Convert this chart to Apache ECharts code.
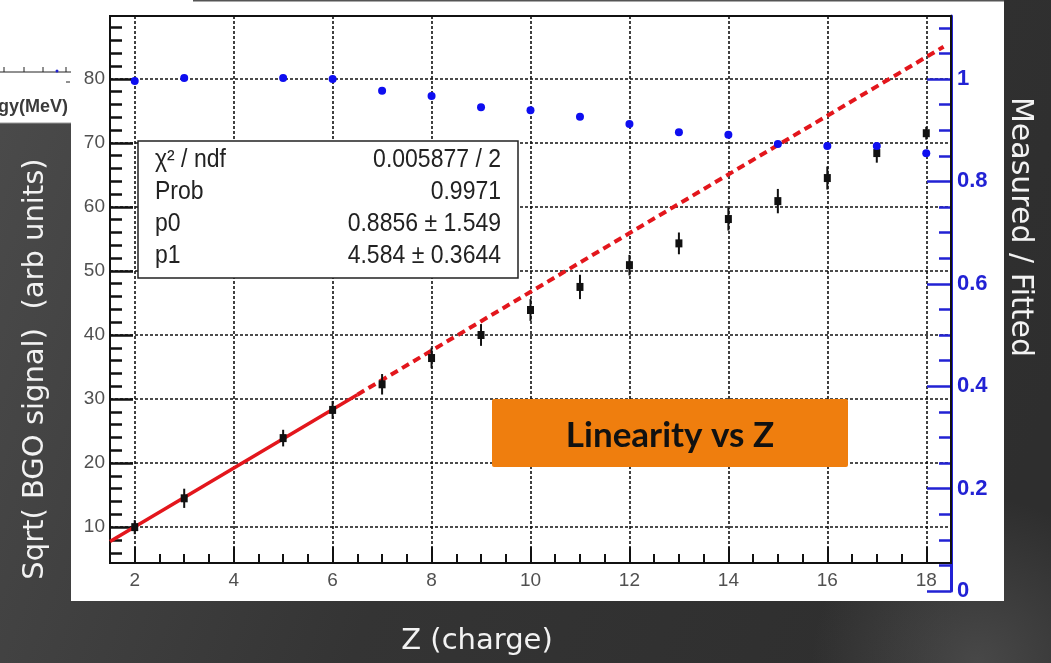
<!DOCTYPE html>
<html>
<head>
<meta charset="utf-8">
<title>Linearity vs Z</title>
<script src="https://cdn.jsdelivr.net/npm/echarts@6/dist/echarts.min.js"></script>
<style>
  html, body { margin: 0; padding: 0; background: #333; }
  #chart { width: 1051px; height: 663px; }
</style>
</head>
<body>
<div id="chart"></div>
<script>
// Measured points: nuclear charge Z, sqrt of BGO signal and its uncertainty
const zCharge   = [2, 3, 5, 6, 7, 8, 9, 10, 11, 12, 13, 14, 15, 16, 17, 18];
const bgoSignal = [10.0, 14.5, 23.9, 28.3, 32.3, 36.4, 40.0, 43.9, 47.5, 50.9, 54.3, 58.1, 60.9, 64.5, 68.4, 71.5];
const bgoError  = [1.1, 1.5, 1.3, 1.4, 1.6, 1.6, 1.7, 1.7, 1.9, 1.6, 1.7, 1.8, 1.9, 1.8, 1.5, 1.0];
// Measured / fitted ratio (right-hand scale)
const ratio     = [0.996, 1.002, 1.002, 1.000, 0.977, 0.967, 0.945, 0.939, 0.926, 0.912, 0.896, 0.891, 0.873, 0.869, 0.869, 0.855];

// Straight-line fit results: y = p0 + p1 * Z
const fitP0 = 0.8856;
const fitP1 = 4.584;
const fitSolidZ  = [1.5, 6.5];    // fitted range
const fitDashedZ = [6.5, 18.35];  // extrapolation

// Fit statistics box
const statNames  = ['\u03C7\u00B2 / ndf', 'Prob', 'p0', 'p1'];
const statValues = ['0.005877 / 2', '0.9971', '0.8856 \u00B1 1.549', '4.584 \u00B1 0.3644'];

// Axis ranges and tick positions
const xRange = [1.5, 18.5];
const yRange = [4.4, 89.8];
const ratioRange = [0, 1.123];
const xMajorTicks = [2, 4, 6, 8, 10, 12, 14, 16, 18];
const yMajorTicks = [10, 20, 30, 40, 50, 60, 70, 80];
const ratioMajorTicks = [0, 0.2, 0.4, 0.6, 0.8, 1.0];

function steps(from, to, step) {
  const out = [];
  for (let v = from; v <= to + 1e-9; v += step) out.push(Math.round(v * 1000) / 1000);
  return out;
}
const xMinorTicks = steps(2, 18.5, 0.5);
const yMinorTicks = steps(6, 88, 2);
const ratioMinorTicks = steps(0.05, 1.1, 0.05);

const BLUE = '#2222d4';
const TICK_FONT = 'Liberation Sans, Arial, sans-serif';
const TITLE_FONT = 'DejaVu Sans, sans-serif';

const chart = echarts.init(document.getElementById('chart'), null, { renderer: 'canvas' });

const dottedGrid = { show: true, lineStyle: { color: '#111', width: 1.6, type: [3, 2] } };

function valueAxis(extra) {
  return Object.assign({
    type: 'value',
    axisLine: { show: false, onZero: false },
    splitLine: { show: false },
    axisLabel: { show: false }
  }, extra);
}

const option = {
  animation: false,
  grid: [
    { left: 110, top: 16, width: 841, height: 547 },
    { left: 110, top: 16, width: 841, height: 575 }
  ],
  xAxis: [
    valueAxis({
      gridIndex: 0, position: 'bottom', min: xRange[0], max: xRange[1],
      axisTick: { show: true, inside: true, length: 16, customValues: xMajorTicks,
                  lineStyle: { color: '#111', width: 2 } },
      axisLabel: { show: true, customValues: xMajorTicks, color: '#505050', fontSize: 19,
                   fontFamily: TICK_FONT, margin: 8 },
      splitLine: dottedGrid
    }),
    valueAxis({
      gridIndex: 0, position: 'bottom', min: xRange[0], max: xRange[1],
      axisTick: { show: true, inside: true, length: 9, customValues: xMinorTicks,
                  lineStyle: { color: '#111', width: 2 } }
    }),
    valueAxis({ gridIndex: 1, position: 'bottom', min: xRange[0], max: xRange[1], show: false })
  ],
  yAxis: [
    valueAxis({
      gridIndex: 0, position: 'left', min: yRange[0], max: yRange[1],
      axisTick: { show: true, inside: true, length: 23, customValues: yMajorTicks,
                  lineStyle: { color: '#111', width: 2.5 } },
      axisLabel: { show: true, customValues: yMajorTicks, color: '#505050', fontSize: 19,
                   fontFamily: TICK_FONT, margin: 5 },
      splitLine: dottedGrid
    }),
    valueAxis({
      gridIndex: 0, position: 'left', min: yRange[0], max: yRange[1],
      axisTick: { show: true, inside: true, length: 12, customValues: yMinorTicks,
                  lineStyle: { color: '#111', width: 2.5 } }
    }),
    valueAxis({
      gridIndex: 1, position: 'right', min: ratioRange[0], max: ratioRange[1],
      axisLine: { show: true, onZero: false, lineStyle: { color: BLUE, width: 3 } },
      axisTick: { show: true, inside: true, length: 24, customValues: ratioMajorTicks,
                  lineStyle: { color: BLUE, width: 2.5 } },
      axisLabel: { show: true, customValues: ratioMajorTicks, color: BLUE, fontSize: 22,
                   fontWeight: 'bold', fontFamily: TICK_FONT, margin: 6 }
    }),
    valueAxis({
      gridIndex: 1, position: 'right', min: ratioRange[0], max: ratioRange[1],
      axisTick: { show: true, inside: true, length: 12, customValues: ratioMinorTicks,
                  lineStyle: { color: BLUE, width: 2.5 } }
    })
  ],
  series: [
    {
      name: 'fit', type: 'line', xAxisIndex: 0, yAxisIndex: 0, z: 3,
      data: fitSolidZ.map(z => [z, fitP0 + fitP1 * z]),
      symbol: 'none', lineStyle: { color: '#e3161c', width: 3.5 }
    },
    {
      name: 'fit extrapolated', type: 'line', xAxisIndex: 0, yAxisIndex: 0, z: 3,
      data: fitDashedZ.map(z => [z, fitP0 + fitP1 * z]),
      symbol: 'none', lineStyle: { color: '#e3161c', width: 4, type: [8, 5] }
    },
    {
      name: 'measured', type: 'custom', xAxisIndex: 0, yAxisIndex: 0, z: 4,
      data: zCharge.map((z, i) => [z, bgoSignal[i], bgoError[i]]),
      renderItem: function (params, api) {
        const z = api.value(0), y = api.value(1), e = api.value(2);
        const c = api.coord([z, y]);
        const hi = api.coord([z, y + e]);
        const lo = api.coord([z, y - e]);
        return {
          type: 'group',
          children: [
            { type: 'line', shape: { x1: c[0], y1: hi[1], x2: c[0], y2: lo[1] },
              style: { stroke: '#111', lineWidth: 2 } },
            { type: 'rect', shape: { x: c[0] - 3.5, y: c[1] - 4, width: 7, height: 8 },
              style: { fill: '#111' } }
          ]
        };
      }
    },
    {
      name: 'measured / fitted', type: 'scatter', xAxisIndex: 2, yAxisIndex: 2, z: 4,
      data: zCharge.map((z, i) => [z, ratio[i]]),
      symbol: 'circle', symbolSize: 8, itemStyle: { color: '#0e0ef0', opacity: 1 }
    }
  ],
  graphic: [
    // slide background
    { type: 'rect', z: -30, shape: { x: 0, y: 0, width: 1051, height: 663 },
      style: { fill: { type: 'linear', x: 0, y: 0, x2: 1, y2: 0.6,
        colorStops: [ { offset: 0, color: '#4c4c4c' }, { offset: 0.5, color: '#343434' },
                      { offset: 1, color: '#2e2e2e' } ] } } },
    { type: 'rect', z: -29, shape: { x: 0, y: 0, width: 1051, height: 663 },
      style: { fill: { type: 'radial', x: 0.93, y: 1.0, r: 0.25,
        colorStops: [ { offset: 0, color: 'rgba(120,120,120,0.35)' }, { offset: 1, color: 'rgba(120,120,120,0)' } ] } } },
    // neighbouring panel edge at the top left
    { type: 'rect', z: -25, shape: { x: 0, y: 0, width: 71, height: 123 }, style: { fill: '#ffffff' } },
    { type: 'line', z: -24, shape: { x1: 0, y1: 123, x2: 71, y2: 123 }, style: { stroke: '#9a9a9a', lineWidth: 1 } },
    { type: 'line', z: -24, shape: { x1: 0, y1: 72, x2: 71, y2: 72 }, style: { stroke: '#222', lineWidth: 1 } },
    { type: 'line', z: -24, shape: { x1: 4, y1: 67, x2: 4, y2: 72 }, style: { stroke: '#222', lineWidth: 1 } },
    { type: 'line', z: -24, shape: { x1: 24, y1: 67, x2: 24, y2: 72 }, style: { stroke: '#222', lineWidth: 1 } },
    { type: 'line', z: -24, shape: { x1: 43, y1: 67, x2: 43, y2: 72 }, style: { stroke: '#222', lineWidth: 1 } },
    { type: 'line', z: -24, shape: { x1: 66, y1: 67, x2: 66, y2: 72 }, style: { stroke: '#222', lineWidth: 1 } },
    { type: 'circle', z: -24, shape: { cx: 57, cy: 71, r: 1.5 }, style: { fill: '#2020d0' } },
    { type: 'line', z: -24, shape: { x1: 66, y1: 82, x2: 70, y2: 82 }, style: { stroke: '#222', lineWidth: 1 } },
    { type: 'text', z: -24, x: -2, y: 107,
      style: { text: 'gy(MeV)', font: 'bold 18px Liberation Sans, Arial, sans-serif', fill: '#3a3a3a',
               align: 'left', verticalAlign: 'middle' } },
    // main white panel
    { type: 'rect', z: -20, shape: { x: 71, y: 0, width: 933, height: 601 }, style: { fill: '#ffffff' } },
    { type: 'line', z: -19, shape: { x1: 193, y1: 0.5, x2: 1004, y2: 0.5 }, style: { stroke: '#555', lineWidth: 2 } },
    // plot frame
    { type: 'rect', z: 1, shape: { x: 110, y: 16, width: 841, height: 547 },
      style: { fill: 'none', stroke: '#111', lineWidth: 2 } },
    // fit statistics box
    { type: 'rect', z: 6, shape: { x: 138, y: 141, width: 380, height: 137 },
      style: { fill: '#ffffff', stroke: '#222', lineWidth: 1.5 } },
    ...statNames.map((t, i) => ({
      type: 'text', z: 7, x: 155, y: 160 + i * 32, scaleY: 1.12,
      style: { text: t, font: '23px Liberation Sans, Arial, sans-serif', fill: '#222',
               align: 'left', verticalAlign: 'middle' }
    })),
    ...statValues.map((t, i) => ({
      type: 'text', z: 7, x: 501, y: 160 + i * 32, scaleY: 1.12,
      style: { text: t, font: '23px Liberation Sans, Arial, sans-serif', fill: '#222',
               align: 'right', verticalAlign: 'middle' }
    })),
    // slide title box
    { type: 'rect', z: 8, shape: { x: 492, y: 399, width: 356, height: 68, r: 2 },
      style: { fill: '#ef7e0e' } },
    { type: 'text', z: 9, x: 670, y: 436,
      style: { text: 'Linearity vs Z', font: 'bold 35px Lato, sans-serif', fill: '#111',
               align: 'center', verticalAlign: 'middle' } },
    // axis titles
    { type: 'text', z: 9, x: 35, y: 369, rotation: Math.PI / 2,
      style: { text: 'Sqrt( BGO signal)  (arb units)', font: '29px ' + TITLE_FONT, fill: '#f2f2f2',
               align: 'center', verticalAlign: 'middle' } },
    { type: 'text', z: 9, x: 1020, y: 227, rotation: -Math.PI / 2,
      style: { text: 'Measured / Fitted', font: '30px ' + TITLE_FONT, fill: '#f2f2f2',
               align: 'center', verticalAlign: 'middle' } },
    { type: 'text', z: 9, x: 477, y: 641,
      style: { text: 'Z (charge)', font: '29px ' + TITLE_FONT, fill: '#f2f2f2',
               align: 'center', verticalAlign: 'middle' } }
  ]
};

chart.setOption(option);
</script>
</body>
</html>
